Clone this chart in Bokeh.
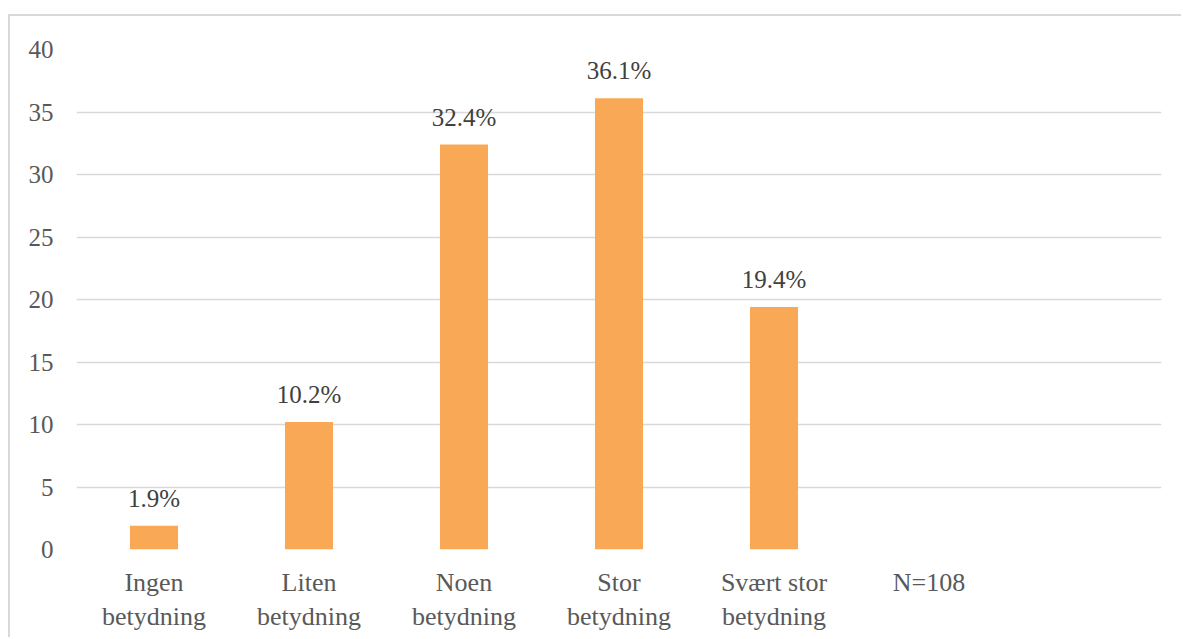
from bokeh.plotting import figure
from bokeh.models import ColumnDataSource, FactorRange, Range1d, LabelSet, FixedTicker
from bokeh.embed import file_html
from bokeh.resources import INLINE

# Categories along the x axis (the last slot is left empty, as in the original layout)
categories = ["Ingen\nbetydning", "Liten\nbetydning", "Noen\nbetydning",
              "Stor\nbetydning", "Svært stor\nbetydning", "N=108", " "]
bar_categories = categories[:5]
shares = [1.9, 10.2, 32.4, 36.1, 19.4]
y_ticks = [0, 5, 10, 15, 20, 25, 30, 35, 40]

SERIF = "Liberation Serif"

source = ColumnDataSource(dict(
    cat=bar_categories,
    val=shares,
    label=[f"{v:.1f}%" for v in shares],
))

p = figure(
    x_range=FactorRange(*categories, range_padding=0),
    y_range=Range1d(0, 40),
    width=1173, height=623,
    min_border_left=66, min_border_right=22,
    min_border_top=33, min_border_bottom=90,
    output_backend="svg", toolbar_location=None,
)
# chart frame: light grey border on the top and left edges
p.styles = {"border-top": "2px solid #D9D9D9", "border-left": "2px solid #D9D9D9",
            "margin-left": "8px", "margin-top": "14px"}

p.vbar(x="cat", top="val", width=0.31, source=source,
       fill_color="#F9A955", line_color=None)

labels = LabelSet(x="cat", y="val", text="label", source=source,
                  text_align="center", text_baseline="alphabetic", y_offset=19,
                  text_font=SERIF, text_font_size="25px",
                  text_color="#404040")
p.add_layout(labels)

p.outline_line_color = None
p.background_fill_color = "white"
p.border_fill_color = "white"

p.xgrid.grid_line_color = None
p.ygrid.grid_line_color = "#D9D9D9"
p.ygrid.grid_line_width = 1.5
p.yaxis.ticker = FixedTicker(ticks=y_ticks)

for ax in (p.xaxis[0], p.yaxis[0]):
    ax.axis_line_color = None
    ax.major_tick_line_color = None
    ax.minor_tick_line_color = None
    ax.major_tick_in = 0
    ax.major_tick_out = 0
    ax.minor_tick_in = 0
    ax.minor_tick_out = 0
    ax.major_label_text_font = SERIF
    ax.major_label_text_color = "#595959"

p.yaxis.major_label_text_font_size = "25px"
p.yaxis.major_label_standoff = 23
p.xaxis.major_label_text_font_size = "26px"
p.xaxis.major_label_standoff = 18

open("out.html", "w").write(file_html(p, INLINE))
